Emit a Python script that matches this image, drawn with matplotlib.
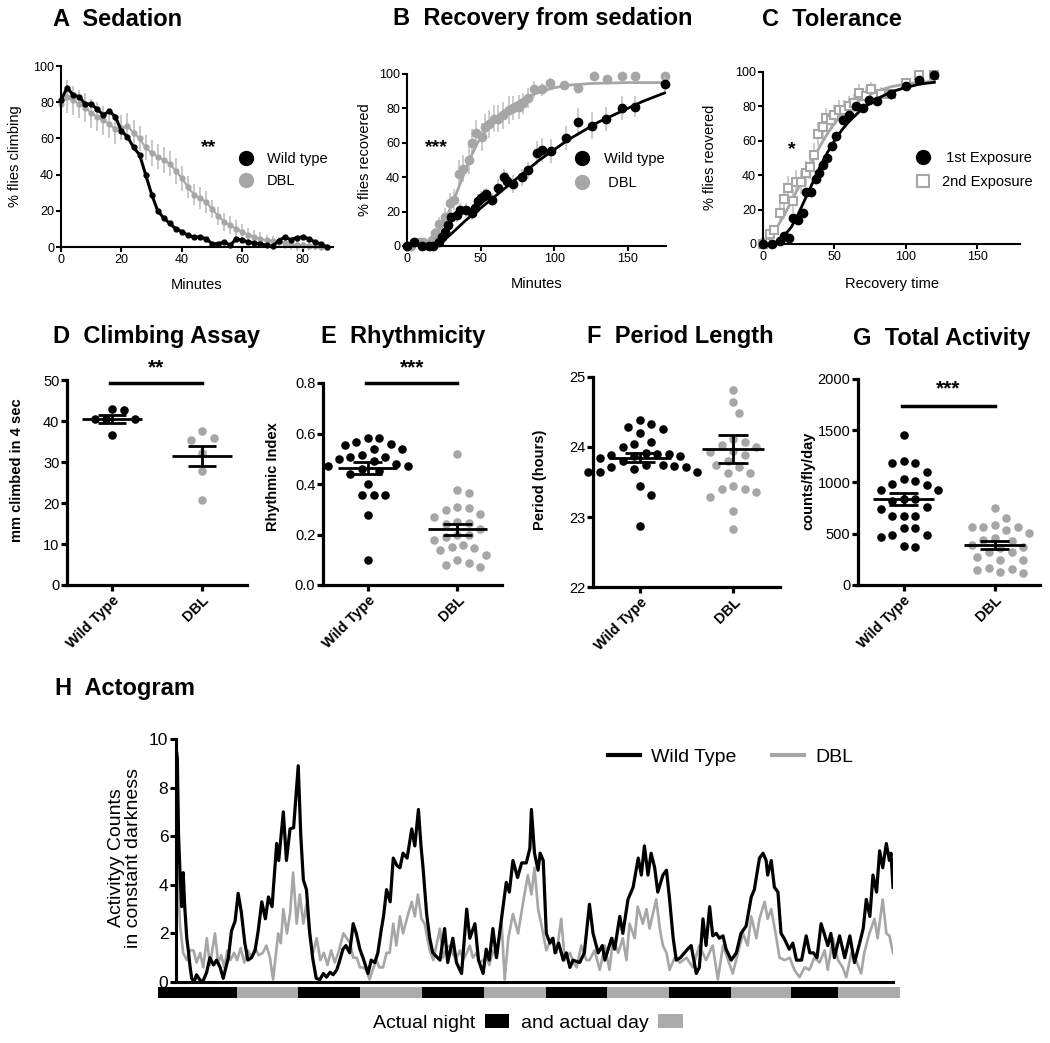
import numpy as np
import matplotlib.pyplot as plt
from matplotlib.lines import Line2D
from matplotlib.patches import Patch

plt.rcParams['font.family'] = ['Liberation Sans', 'DejaVu Sans']

W, H = 1050, 1043
GRAY = '#a6a6a6'
LGRAY = '#c4c4c4'

# --- A: sedation (minutes vs % climbing) ---
a_min = [0, 2, 4, 6, 8, 10, 12, 14, 16, 18, 20, 22, 24, 26, 28, 30, 32, 34, 36, 38, 40, 42, 44,
         46, 48, 50, 52, 54, 56, 58, 60, 62, 64, 66, 68, 70, 72, 74, 76, 78, 80, 82, 84, 86, 88]
a_wt = [81, 88, 84, 83, 79, 79, 76, 73, 75, 72, 64, 61, 55, 51, 40, 29, 20, 16, 13, 10, 8.5, 6.4, 5.5,
        5.5, 4.6, 1.8, 1.8, 2.8, 0.9, 4.6, 3.7, 2.8, 2.2, 1.8, 0.9, 0.4, 3.5, 5.5, 4.0, 5.2, 5.5, 4.6, 2.8, 1.8, 0]
a_dbl = [79, 83, 81, 79, 77, 74, 72, 70, 68, 65, 66, 67, 63, 60, 55, 52, 50, 48, 46, 42, 38, 33, 29,
         27, 25, 21, 17, 14, 12, 10, 8.5, 6.5, 5.5, 4.5, 3.7, 3.2, 2.8, 2.0, 1.5, 0.9, 0.9, 0.5, 0.4, 0, 0]
a_dbl_err = [8, 9, 8, 8, 8, 8, 8, 8, 8, 8, 7, 7, 7, 7, 7, 7, 7, 7, 7, 7, 7, 6, 6,
             6, 6, 5, 5, 5, 5, 5, 4, 4, 4, 4, 3, 3, 3, 3, 3, 3, 2, 2, 2, 1, 0]

# --- B: recovery from sedation ---
b_wt_min = [0, 5, 10, 15, 18, 22, 24, 26, 28, 30, 34, 36, 40, 44, 46, 48, 50, 52, 54, 58, 62, 66,
            68, 72, 78, 82, 88, 92, 98, 108, 116, 126, 135, 146, 155, 175]
b_wt = [0, 2.5, 0, 0, 0, 2.5, 5.4, 8.3, 12, 17, 18, 21, 21, 19, 22, 26, 28, 29, 30, 27, 34, 40,
        38, 36, 40, 44, 54, 56, 55, 63, 72, 70, 74, 80, 81, 94]
b_wt_err = [0, 1, 0, 0, 0, 2, 3, 3, 4, 4, 4, 4, 4, 4, 4, 4, 4, 4, 4, 4, 5, 5,
            5, 5, 5, 5, 7, 7, 7, 7, 8, 8, 7, 7, 6, 4]
b_dbl_min = [0, 3, 8, 11, 15, 17, 19, 22, 26, 29, 32, 35, 38, 42, 44, 47, 51, 53, 56, 59, 62, 65,
             69, 72, 76, 79, 82, 86, 92, 97, 107, 116, 127, 136, 146, 155, 175]
b_dbl = [0, 0, 2.5, 2.5, 0.6, 3.5, 7.4, 13, 17, 25, 27, 42, 45, 50, 60, 65.5, 63.5, 69, 71, 74, 74, 76,
         79, 80, 81, 83, 86, 91, 91, 94.5, 93.6, 92, 99, 97, 99, 99, 99]
b_dbl_err = [0, 0, 1, 1, 1, 2, 3, 4, 5, 6, 6, 8, 8, 8, 8, 8, 8, 8, 8, 8, 8, 8,
             8, 7, 7, 6, 6, 5, 4, 3, 2, 2, 1, 1, 1, 1, 1]
b_wt_fit_min = [18, 22, 26, 30, 35, 40, 50, 60, 70, 80, 90, 100, 110, 120, 130, 140, 150, 160, 175]
b_wt_fit = [0, 1.5, 4, 7, 11, 15, 22, 29, 36, 43, 50, 56, 62, 67, 72, 76, 80, 84, 89]
b_dbl_fit_min = [12, 16, 20, 24, 28, 32, 36, 40, 44, 48, 52, 56, 60, 65, 70, 80, 90, 100, 110, 125, 150, 175]
b_dbl_fit = [1, 3, 7, 12, 19, 27, 36, 45, 53, 60, 65, 70, 74, 78, 81, 86, 89.5, 92, 93.5, 94.5, 95, 95]

# --- C: tolerance ---
c1_min = [0, 6, 12, 15, 18.5, 21, 24.5, 28, 30, 33.5, 37, 39.5, 42, 45, 48.5, 51, 56, 60.5, 65, 70,
          74.5, 80, 89.5, 100, 109.5, 120]
c1 = [0, 0, 1.5, 4.5, 3.5, 15, 14, 18, 30, 30, 38, 41, 46, 50, 57, 63, 72, 75, 80, 79,
      84, 83, 87, 92, 95.5, 98]
c2_min = [0, 2.3, 4.6, 8, 11.6, 15, 17.4, 21, 23, 26.7, 30, 32.6, 36, 38.4, 42, 44, 47.7, 50, 53.5,
          57, 60.5, 64, 67.4, 72, 75.6, 82.6, 89.5, 100, 109.5, 120]
c2 = [0, 0.6, 6, 8, 18, 26, 32.5, 25, 36, 36, 41, 45, 52, 64, 68, 73, 72, 75, 78,
      78, 80, 82, 88, 86, 90, 87, 87, 93.6, 98.5, 98]
c2_err = [0, 1, 2, 3, 5, 6, 7, 7, 7, 7, 7, 7, 7, 7, 7, 6, 6, 6, 6,
          6, 6, 5, 5, 5, 4, 4, 3, 2, 1, 1]
c1_fit_min = [8, 12, 16, 20, 25, 30, 35, 40, 45, 50, 55, 60, 70, 80, 90, 100, 110, 120]
c1_fit = [0, 2.5, 6, 10, 18, 27, 36, 45, 53, 60, 66, 71, 79, 84.5, 88.5, 91, 93, 94]
c2_fit_min = [0, 5, 10, 15, 20, 25, 30, 35, 40, 45, 50, 55, 60, 70, 80, 90, 100, 110, 120]
c2_fit = [0, 4, 10, 17, 25, 33, 41, 49, 57, 64, 70, 75, 79, 85, 89, 91.5, 93, 94, 94.5]

# --- D-G: dot plots ---
groups = ['Wild Type', 'DBL']
d_wt = [43, 42.7, 40.6, 40.4, 40.5, 36.6]
d_dbl = [37.5, 35.8, 35.3, 32.3, 27.8, 20.7]
d_mean, d_sem = [40.5, 31.5], [0.9, 2.5]

e_wt = [0.584, 0.584, 0.567, 0.560, 0.554, 0.540, 0.537, 0.514, 0.507, 0.507, 0.50, 0.49,
        0.48, 0.47, 0.47, 0.46, 0.45, 0.44, 0.40, 0.356, 0.356, 0.356, 0.277, 0.10]
e_dbl = [0.52, 0.376, 0.365, 0.307, 0.303, 0.297, 0.283, 0.270, 0.250, 0.244, 0.24, 0.22, 0.20,
         0.198, 0.191, 0.18, 0.158, 0.152, 0.145, 0.14, 0.119, 0.10, 0.086, 0.079, 0.072]
e_mean, e_sem = [0.464, 0.220], [0.025, 0.02]

f_wt = [24.38, 24.33, 24.29, 24.26, 24.20, 24.07, 24.04, 24.00, 23.91, 23.90, 23.90, 23.88, 23.87, 23.87,
        23.85, 23.80, 23.74, 23.74, 23.73, 23.71, 23.71, 23.69, 23.64, 23.64, 23.64, 23.45, 23.32, 22.87]
f_dbl = [24.82, 24.65, 24.49, 24.12, 24.07, 24.03, 24.00, 23.95, 23.93, 23.88, 23.80, 23.75, 23.71,
         23.63, 23.63, 23.44, 23.40, 23.40, 23.36, 23.28, 23.08, 22.83]
f_mean, f_sem = [23.85, 23.97], [0.07, 0.2]

g_wt = [1456, 1204, 1181, 1181, 1100, 1029, 1010, 977, 971, 922, 922, 832, 832, 819, 754, 738,
        670, 670, 670, 557, 557, 482, 482, 463, 379, 366]
g_dbl = [744, 650, 582, 566, 566, 560, 530, 502, 453, 437, 430, 390, 372, 356, 324, 317, 275,
         243, 243, 162, 152, 146, 129, 113]
g_mean, g_sem = [832, 388], [60, 35]

# --- H: actogram (hours in constant darkness vs counts) ---
h_wt_t = [0.0, 0.26, 0.5, 0.78, 1.1, 1.4, 1.7, 2.1, 2.4, 2.7, 3.05, 3.5, 4.0, 4.6, 5.2, 5.97, 6.6, 7.3,
          7.9, 8.6, 9.2, 9.6, 10.2, 10.8, 11.5, 12.1, 12.7, 13.4, 14.0, 14.7, 15.4, 16.0, 16.7, 17.4,
          18.0, 18.7, 19.6, 20.0, 20.9, 21.5, 22.2, 22.9, 23.8, 24.3, 24.8, 25.4, 26.0, 26.6, 27.3,
          28.0, 28.7, 29.3, 30.0, 30.6, 31.3, 31.9, 32.5, 33.1, 33.8, 34.5, 35.1, 35.8, 36.4, 37.4,
          38.0, 38.7, 39.3, 40.0, 40.4, 41.0, 41.7, 42.3, 43.0, 43.6, 44.2, 45.0, 45.9, 46.5, 47.2,
          47.7, 48.1, 48.8, 49.4, 50.0, 51.4, 52.3, 52.9, 53.9, 54.6, 55.6, 56.6, 57.2, 58.2, 58.9,
          59.8, 60.4, 61.0, 61.7, 62.4, 63.0, 64.3, 64.9, 65.6, 66.5, 67.3, 68.2, 68.9, 69.2, 69.8,
          70.5, 70.9, 71.5, 72.1, 72.8, 73.4, 73.8, 74.5, 75.4, 76.0, 76.7, 77.3, 78.6, 79.5, 80.0,
          80.5, 81.2, 82.2, 83.0, 83.5, 84.8, 85.4, 86.4, 87.0, 88.0, 89.0, 90.0, 90.6, 91.2, 91.9,
          92.5, 93.2, 93.8, 94.8, 95.5, 96.1, 96.8, 97.4, 98.2, 99.6, 100.3, 101.3, 101.9, 102.6,
          103.2, 103.9, 104.5, 105.2, 105.8, 106.5, 107.1, 108.1, 109.1, 110.0, 111.0, 112.0, 112.6,
          113.6, 114.3, 114.9, 115.2, 115.9, 116.5, 117.2, 117.8, 118.4, 119.4, 120.1, 120.8, 121.8,
          122.7, 123.4, 124.1, 124.8, 125.6, 126.2, 126.9, 127.5, 128.2, 129.2, 130.2, 131.2, 132.1,
          133.1, 133.8, 134.4, 135.1, 135.7, 136.4, 137.0, 137.6, 138.3, 138.9, 139.2, 139.6]
h_wt = [9.7, 9.2, 6.0, 4.5, 3.1, 4.5, 3.1, 1.8, 1.3, 0.7, 0.15, 0.0, 0.3, 0.1, 0.0, 0.4, 1.0, 0.7,
        0.9, 0.6, 0.15, 0.5, 1.0, 2.1, 2.5, 3.65, 2.9, 1.6, 0.9, 1.0, 1.3, 2.1, 3.3, 2.6,
        3.5, 3.1, 5.7, 5.0, 7.0, 5.0, 6.3, 6.35, 8.9, 6.0, 4.2, 3.8, 2.1, 1.0, 0.15,
        0.1, 0.35, 0.2, 0.4, 0.3, 0.5, 0.9, 1.35, 1.5, 1.2, 2.4, 2.0, 1.35, 1.0, 0.35,
        0.9, 0.8, 1.2, 2.2, 2.7, 3.8, 3.3, 5.1, 4.8, 4.7, 5.3, 5.1, 6.3, 5.6, 7.1,
        5.6, 4.7, 2.8, 1.8, 1.2, 0.9, 2.2, 0.8, 1.8, 0.8, 0.35, 3.0, 1.8, 2.4, 0.9,
        0.35, 1.35, 0.9, 2.2, 1.0, 2.0, 4.1, 3.7, 5.0, 4.3, 4.9, 4.9, 5.5, 7.1, 5.3,
        4.6, 5.3, 5.0, 2.0, 1.6, 1.8, 1.2, 1.6, 0.9, 1.2, 0.6, 0.9, 0.8, 1.2, 2.2,
        3.2, 2.0, 1.2, 1.5, 0.9, 1.8, 1.35, 2.7, 2.0, 3.4, 3.9, 5.1, 4.4, 5.6, 4.4,
        5.3, 4.7, 3.7, 4.4, 4.6, 3.4, 1.8, 0.9, 1.0, 1.35, 1.5, 0.35, 0.6, 2.6,
        1.5, 3.1, 1.9, 2.0, 1.8, 1.9, 1.35, 0.9, 1.2, 2.0, 2.3, 3.5, 3.8,
        5.1, 5.3, 5.0, 4.4, 5.0, 3.9, 3.7, 2.0, 1.8, 1.35, 1.6, 0.9, 0.9,
        1.9, 1.2, 1.2, 1.0, 2.4, 2.0, 1.5, 2.0, 1.0, 1.9, 1.0, 1.9, 0.8,
        1.6, 2.2, 3.4, 2.7, 4.4, 3.7, 5.4, 4.7, 5.7, 5.0, 5.3, 3.9]
h_dbl_t = [0.0, 0.3, 0.8, 1.4, 2.1, 2.7, 3.4, 4.0, 4.7, 5.3, 6.0, 6.6, 7.6, 8.2, 8.8, 9.4, 10.0, 10.6,
           11.3, 11.9, 12.6, 13.3, 14.0, 14.7, 15.4, 16.1, 16.9, 17.6, 18.3, 18.9, 19.9, 20.4, 20.9,
           21.6, 22.2, 22.8, 23.5, 24.1, 24.8, 25.4, 26.1, 26.7, 27.4, 28.1, 28.8, 29.5, 30.2, 30.9,
           31.6, 32.6, 33.9, 34.5, 35.2, 35.8, 36.4, 37.0, 37.7, 38.3, 39.0, 39.6, 40.3, 41.0, 41.6,
           42.3, 42.9, 43.6, 44.2, 45.2, 45.9, 46.5, 47.1, 47.8, 48.4, 49.4, 50.1, 51.4, 52.0, 52.7,
           53.3, 54.0, 54.6, 55.3, 55.9, 56.6, 57.2, 57.8, 58.5, 59.1, 59.8, 60.4, 61.0, 61.7, 62.4,
           63.4, 64.0, 64.7, 65.6, 66.6, 67.6, 68.5, 69.2, 69.8, 70.5, 71.1, 72.1, 73.1, 74.1, 75.0,
           75.7, 76.7, 77.4, 78.0, 78.9, 79.9, 80.5, 81.5, 82.5, 83.5, 84.4, 85.1, 86.1, 87.0, 87.7,
           88.3, 89.3, 89.9, 90.9, 91.6, 92.2, 93.5, 94.2, 94.8, 95.5, 96.1, 97.1, 98.1, 99.4, 100.6,
           101.9, 103.2, 104.5, 105.5, 106.5, 107.5, 108.4, 109.4, 110.4, 111.3, 112.0, 113.0, 113.6,
           114.6, 115.2, 115.9, 116.9, 117.5, 118.5, 119.5, 120.4, 121.4, 122.4, 123.3, 124.3, 125.3,
           126.3, 126.9, 127.9, 128.9, 129.8, 130.5, 131.5, 132.4, 133.4, 134.0, 135.0, 136.0, 136.6,
           137.6, 138.3, 138.9, 139.6]
h_dbl = [4.5, 4.5, 2.3, 1.2, 0.9, 1.3, 1.3, 0.8, 1.2, 0.6, 1.8, 0.7, 2.0, 0.8, 1.1, 0.6, 1.3, 0.9,
         1.2, 0.9, 1.4, 0.8, 1.3, 1.0, 1.4, 1.1, 1.2, 1.5, 1.0, 0.1, 2.0, 1.6, 3.0,
         2.0, 2.8, 4.5, 2.4, 3.6, 2.4, 3.2, 1.8, 1.2, 1.8, 0.9, 1.2, 0.7, 1.3, 0.8,
         1.2, 2.0, 1.6, 1.0, 1.0, 0.6, 0.6, 0.5, 0.1, 0.5, 0.9, 0.6, 0.6, 1.2, 1.2,
         2.4, 1.5, 2.7, 2.0, 2.8, 3.3, 2.7, 3.6, 2.6, 2.4, 1.3, 0.9, 2.2, 1.0, 1.4,
         1.5, 1.1, 1.0, 1.3, 0.9, 1.2, 1.5, 1.0, 1.2, 0.8, 0.9, 1.0, 0.7, 1.3, 1.0,
         2.4, 0.1, 1.8, 2.8, 2.0, 3.3, 4.4, 3.6, 4.7, 3.0, 2.4, 1.3, 1.8, 1.2, 2.6,
         0.9, 1.2, 0.8, 0.6, 1.5, 0.9, 0.9, 1.3, 0.5, 1.5, 0.5, 1.8, 1.2, 1.8, 0.9,
         2.4, 1.8, 3.1, 2.4, 3.0, 2.2, 3.4, 2.2, 1.5, 1.2, 0.5, 1.0, 0.8, 1.0, 0.6,
         1.5, 0.9, 1.5, 0.1, 1.5, 0.9, 0.35, 1.2, 2.0, 1.5, 2.7, 1.8, 2.6,
         3.3, 2.6, 3.0, 1.8, 1.0, 0.9, 1.0, 0.5, 0.2, 0.6, 0.5, 1.0, 0.8,
         1.3, 0.5, 1.8, 0.9, 0.6, 0.2, 1.2, 0.9, 0.35, 1.2, 2.0, 2.6, 1.8,
         3.4, 2.0, 1.9, 1.2]
# light schedule: (start hour, end hour)
nights = [(-3.5, 11.9), (23.7, 35.8), (47.9, 59.9), (72.0, 83.9), (95.9, 108.0), (119.8, 128.8)]
days = [(11.9, 23.7), (35.8, 47.9), (59.9, 72.0), (83.9, 95.9), (108.0, 119.8), (128.8, 140.9)]


def px_axes(x0, y0, x1, y1):
    return fig.add_axes([x0 / W, 1 - y1 / H, (x1 - x0) / W, (y1 - y0) / H])


def ftext(x, y, s, **kw):
    fig.text(x / W, 1 - y / H, s, **kw)


def style(ax, lw=1.5, fs=9, tl=3.5):
    for s in ['top', 'right']:
        ax.spines[s].set_visible(False)
    for s in ['left', 'bottom']:
        ax.spines[s].set_linewidth(lw)
    ax.tick_params(width=lw, length=tl, labelsize=fs, pad=1.5)


def swarm_x(ax, center, vals, gap):
    # simple beeswarm: nearest free slot to the centre, in pixel space
    pts = ax.transData.transform(np.column_stack([np.full(len(vals), center), vals]))
    cx, ys = pts[0, 0], pts[:, 1]
    steps = [0] + [s for k in range(1, 25) for s in (k, -k)]
    placed, out = [], np.empty(len(vals))
    for i in np.argsort(-np.asarray(vals)):
        for s in steps:
            x = cx + s * gap * 0.5
            if all((x - qx) ** 2 + (ys[i] - qy) ** 2 >= (gap * 0.98) ** 2 for qx, qy in placed):
                break
        placed.append((x, ys[i]))
        out[i] = x
    return ax.transData.inverted().transform(np.column_stack([out, ys]))[:, 0]


fig = plt.figure(figsize=(W / 100, H / 100), dpi=100)

# ---------- A ----------
ax = px_axes(61, 66, 333, 247)
ax.errorbar(a_min, a_dbl, yerr=a_dbl_err, fmt='o-', color=GRAY, ecolor=LGRAY, ms=3.5,
            lw=1.5, elinewidth=1.3, capsize=0, zorder=2)
ax.plot(a_min, a_wt, 'o-', color='k', ms=3.5, lw=2.2, zorder=3)
ax.set_xlim(0, 90)
ax.set_ylim(0, 100)
ax.set_xticks([0, 20, 40, 60, 80])
ax.set_yticks(range(0, 101, 20))
style(ax)
for c in ax.collections + ax.lines:
    c.set_clip_on(False)
ax.text(49, 55, '**', fontsize=14, fontweight='bold', ha='center', va='center')
ax.legend(handles=[Line2D([], [], ls='', marker='o', color='k', ms=10),
                   Line2D([], [], ls='', marker='o', color=GRAY, ms=10)],
          labels=['Wild type', 'DBL'], loc='center left', bbox_to_anchor=(0.655, 0.425),
          frameon=False, fontsize=10.5, handlelength=1, handletextpad=0.9,
          labelspacing=0.6, borderpad=0, borderaxespad=0)
ftext(15, 156, '% flies climbing', rotation=90, ha='center', va='center', fontsize=10.5)
ftext(197, 285, 'Minutes', ha='center', va='center', fontsize=10.5)
ftext(53, 19, 'A  Sedation', fontsize=17, fontweight='bold', va='center')

# ---------- B ----------
ax = px_axes(407, 74, 666, 246)
ax.errorbar(b_dbl_min, b_dbl, yerr=b_dbl_err, fmt='o', color=GRAY, ecolor=LGRAY, ms=6,
            elinewidth=1.2, capsize=0, zorder=2)
ax.errorbar(b_wt_min, b_wt, yerr=b_wt_err, fmt='o', color='k', ecolor=LGRAY, ms=6,
            elinewidth=1.2, capsize=0, zorder=3)
ax.plot(b_dbl_fit_min, b_dbl_fit, color=GRAY, lw=2, zorder=2)
ax.plot(b_wt_fit_min, b_wt_fit, color='k', lw=2, zorder=4)
ax.set_xlim(0, 176)
ax.set_ylim(0, 100)
ax.set_xticks([0, 50, 100, 150])
ax.set_yticks(range(0, 101, 20))
style(ax)
for c in ax.collections + ax.lines:
    c.set_clip_on(False)
ax.text(20, 57, '***', fontsize=14, fontweight='bold', ha='center', va='center')
ax.legend(handles=[Line2D([], [], ls='', marker='o', color='k', ms=10),
                   Line2D([], [], ls='', marker='o', color=GRAY, ms=10)],
          labels=['Wild type', ' DBL'], loc='center left', bbox_to_anchor=(0.648, 0.436),
          frameon=False, fontsize=10.5, handlelength=1, handletextpad=1.0,
          labelspacing=0.7, borderpad=0, borderaxespad=0)
ftext(365, 160, '% flies recovered', rotation=90, ha='center', va='center', fontsize=10.5)
ftext(537, 284, 'Minutes', ha='center', va='center', fontsize=10.5)
ftext(393, 19, 'B  Recovery from sedation', fontsize=17, fontweight='bold', va='center')

# ---------- C ----------
ax = px_axes(763, 72, 1020, 244)
ax.errorbar(c2_min, c2, yerr=c2_err, fmt='s', color=GRAY, mfc='white', mec=GRAY, mew=1.5,
            ecolor=LGRAY, ms=6, elinewidth=1.2, capsize=0, zorder=2)
ax.plot(c2_fit_min, c2_fit, color=GRAY, lw=2, zorder=2)
ax.plot(c1_min, c1, 'o', color='k', ms=6, zorder=3)
ax.plot(c1_fit_min, c1_fit, color='k', lw=2, zorder=4)
ax.set_xlim(0, 180)
ax.set_ylim(0, 100)
ax.set_xticks([0, 50, 100, 150])
ax.set_yticks(range(0, 101, 20))
style(ax)
for c in ax.collections + ax.lines:
    c.set_clip_on(False)
ax.text(20, 55, '*', fontsize=14, fontweight='bold', ha='center', va='center')
ax.legend(handles=[Line2D([], [], ls='', marker='o', color='k', ms=10),
                   Line2D([], [], ls='', marker='s', mfc='white', mec=GRAY, mew=1.5, ms=8)],
          labels=[' 1st Exposure', '2nd Exposure'], loc='center left', bbox_to_anchor=(0.595, 0.43),
          frameon=False, fontsize=10.5, handlelength=1, handletextpad=0.8,
          labelspacing=0.7, borderpad=0, borderaxespad=0)
ftext(710, 157, '% flies reovered', rotation=90, ha='center', va='center', fontsize=10.5)
ftext(892, 284, 'Recovery time', ha='center', va='center', fontsize=10.5)
ftext(762, 19, 'C  Tolerance', fontsize=17, fontweight='bold', va='center')


# ---------- D-G ----------
def dot_panel(box, data, means, sems, ylim, yticks, ylabel, ylab_xy, title, title_xy, sig=None):
    ax = px_axes(*box)
    ax.set_xlim(-0.5, 1.5)
    ax.set_ylim(*ylim)
    ax.set_yticks(yticks)
    for i, (vals, col) in enumerate(zip(data, ['k', GRAY])):
        xs = swarm_x(ax, i, vals, 11.5)
        ax.scatter(xs, vals, s=38, color=col, linewidths=0, zorder=3, clip_on=False)
        ax.hlines(means[i], i - 0.33, i + 0.33, color='k', lw=2, zorder=4)
        ax.hlines([means[i] - sems[i], means[i] + sems[i]], i - 0.16, i + 0.16, color='k', lw=2, zorder=4)
        ax.vlines(i, means[i] - sems[i], means[i] + sems[i], color='k', lw=2, zorder=4)
    ax.set_xticks([0, 1])
    ax.set_xticklabels(groups, rotation=45, ha='right', rotation_mode='anchor',
                       fontweight='bold', fontsize=10.5)
    style(ax, lw=2.3, fs=10.5, tl=4)
    if sig:
        y, ytxt, label = sig
        ax.plot([-0.02, 1.0], [y, y], color='k', lw=2.5, clip_on=False)
        ax.text(0.49, ytxt, label, fontsize=15, fontweight='bold', ha='center', va='center', clip_on=False)
    ftext(ylab_xy[0], ylab_xy[1], ylabel, rotation=90, ha='center', va='center',
          fontsize=10.5, fontweight='bold')
    ftext(title_xy[0], title_xy[1], title, fontsize=17, fontweight='bold', va='center')
    return ax


dot_panel((67, 380, 247, 585), [d_wt, d_dbl], d_mean, d_sem, (0, 50), range(0, 51, 10),
          'mm climbed in 4 sec', (17, 470), 'D  Climbing Assay', (53, 336), sig=(49.3, 53.0, '**'))
dot_panel((323, 383, 502, 585), [e_wt, e_dbl], e_mean, e_sem, (0, 0.8), [0, 0.2, 0.4, 0.6, 0.8],
          'Rhythmic Index', (273, 477), 'E  Rhythmicity', (321, 336), sig=(0.8, 0.86, '***'))
dot_panel((593, 377, 780, 587), [f_wt, f_dbl], f_mean, f_sem, (22, 25), [22, 23, 24, 25],
          'Period (hours)', (540, 480), 'F  Period Length', (587, 337))
dot_panel((858, 379, 1040, 585), [g_wt, g_dbl], g_mean, g_sem, (0, 2000), range(0, 2001, 500),
          'counts/fly/day', (808, 481), 'G  Total Activity', (853, 338), sig=(1738, 1900, '***'))

# ---------- H ----------
ax = px_axes(176, 739, 893, 982)
ax.plot(h_dbl_t, h_dbl, color=GRAY, lw=1.9, zorder=2)
ax.plot(h_wt_t, h_wt, color='k', lw=2.3, zorder=3)
ax.set_xlim(0, 139.6)
ax.set_ylim(0, 10)
ax.set_yticks(range(0, 11, 2))
ax.set_xticks([])
style(ax, lw=2.2, fs=12.5, tl=4)
ax.broken_barh([(a, b - a) for a, b in nights], (-0.66, 0.46), facecolors='k', clip_on=False)
ax.broken_barh([(a, b - a) for a, b in days], (-0.66, 0.46), facecolors='#ababab', clip_on=False)
ax.legend(handles=[Line2D([], [], color='k', lw=3), Line2D([], [], color=GRAY, lw=3)],
          labels=['Wild Type', 'DBL'], ncol=2, loc='center left', bbox_to_anchor=(0.602, 0.926),
          frameon=False, fontsize=14, handlelength=1.65, handletextpad=0.6, columnspacing=1.8,
          borderpad=0, borderaxespad=0)
ftext(125, 858, 'Activityy Counts\nin constant darkness', rotation=90, ha='center', va='center',
      fontsize=14, linespacing=1.0)
ftext(55, 688, 'H  Actogram', fontsize=17, fontweight='bold', va='center')
fig.legend(handles=[Patch(fc='k'), Patch(fc='#ababab')], labels=['Actual night', 'and actual day'],
           ncol=2, markerfirst=False, frameon=False, loc='center left',
           bbox_to_anchor=(373 / W, 1 - 1023 / H), fontsize=14, handlelength=1.25,
           handleheight=0.7, handletextpad=0.5, columnspacing=0.6, borderpad=0, borderaxespad=0)

fig.savefig('out.png', dpi=100)
